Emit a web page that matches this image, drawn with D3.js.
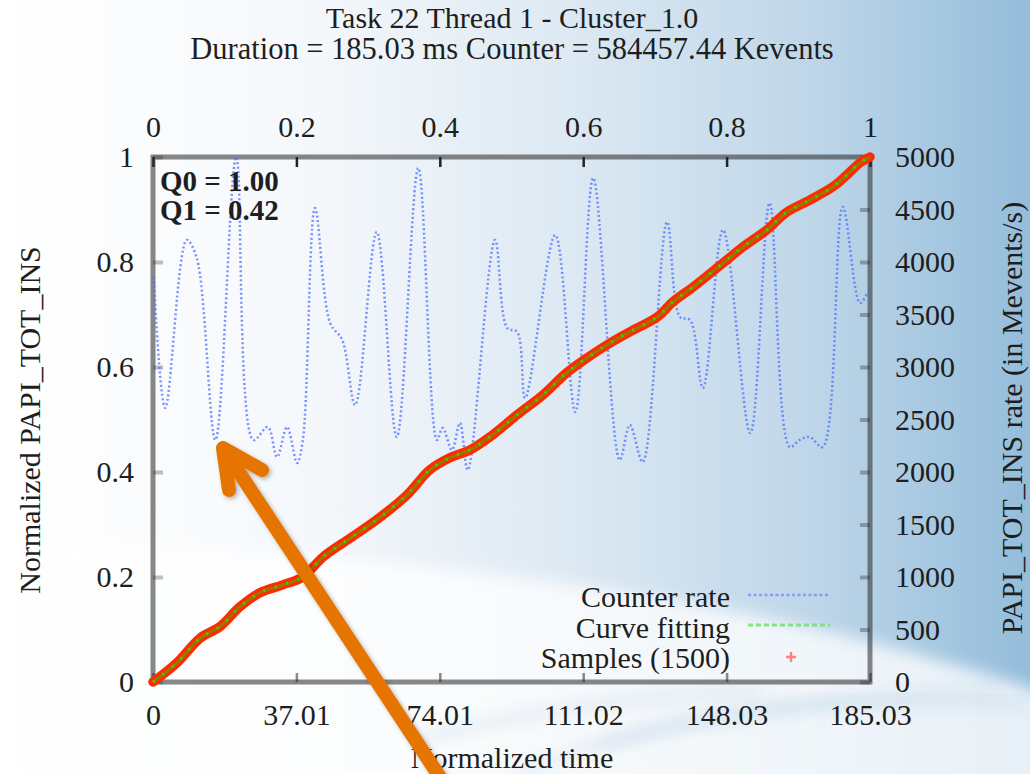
<!DOCTYPE html>
<html>
<head>
<meta charset="utf-8">
<script src="https://cdn.jsdelivr.net/npm/d3@7"></script>
<style>
  body { margin: 0; overflow: hidden; }
  text { font-family: "Liberation Serif", "Times New Roman", serif; fill: #1e1e1e; }
</style>
</head>
<body>
<svg id="svg1" width="1030" height="774"></svg>
<script>
// values
const rateTime   = [0.001,0.017,0.047,0.061,0.087,0.116,0.140,0.160,0.173,0.187,0.201,0.209,0.226,0.247,0.264,0.282,0.312,0.340,0.370,0.396,0.404,0.417,0.428,0.439,0.477,0.494,0.508,0.519,0.561,0.589,0.614,0.651,0.665,0.683,0.717,0.735,0.749,0.767,0.795,0.833,0.860,0.888,0.902,0.916,0.934,0.962,0.986,0.997];
const rateValues = [3857,2610,4210,4038,2305,5000,2305,2429,2143,2429,2086,2305,4514,3419,3257,2638,4286,2333,4895,2305,2419,2210,2467,2019,4210,3371,3333,2705,4257,2571,4800,2114,2448,2095,4381,3476,3448,2800,4305,2371,4562,2238,2305,2333,2238,4524,3610,3714];

const sampleTime   = [0,0.033,0.066,0.093,0.121,0.149,0.181,0.209,0.237,0.275,0.312,0.354,0.386,0.414,0.442,0.470,0.508,0.544,0.577,0.605,0.633,0.665,0.703,0.725,0.753,0.795,0.823,0.856,0.884,0.916,0.948,0.968,0.986,1];
const sampleValues = [0,0.036,0.084,0.105,0.143,0.170,0.185,0.200,0.238,0.274,0.309,0.356,0.404,0.427,0.442,0.467,0.509,0.547,0.589,0.617,0.642,0.667,0.695,0.724,0.752,0.798,0.829,0.861,0.895,0.918,0.943,0.966,0.989,1];
const fitValues    = [0,0.036,0.084,0.105,0.143,0.170,0.185,0.200,0.238,0.274,0.309,0.356,0.404,0.427,0.442,0.467,0.509,0.547,0.589,0.617,0.642,0.667,0.695,0.724,0.752,0.798,0.829,0.861,0.895,0.918,0.943,0.966,0.989,1];

const normTicks    = [0,0.2,0.4,0.6,0.8,1];
const timeLabels   = ["0","37.01","74.01","111.02","148.03","185.03"];
const rateTicks    = [0,500,1000,1500,2000,2500,3000,3500,4000,4500,5000];
const legendLabels = ["Counter rate","Curve fitting","Samples (1500)"];

const svg    = d3.select("#svg1"),
      margin = {top: 157, right: 160, bottom: 92, left: 153},
      width  = svg.attr("width") - margin.left - margin.right,
      height = svg.attr("height") - margin.top - margin.bottom,
      x      = d3.scaleLinear().domain([0, 1]).range([0, width]),
      yL     = d3.scaleLinear().domain([0, 1]).range([height, 0]),
      yR     = d3.scaleLinear().domain([0, 5000]).range([height, 0]);

const defs = svg.append("defs");
const bg = defs.append("linearGradient").attr("id", "bg");
[["0%","#ffffff"],["30%","#f5f8fb"],["55%","#dde9f3"],["78%","#c0d7e9"],["100%","#94bddb"]]
  .forEach(s => bg.append("stop").attr("offset", s[0]).attr("stop-color", s[1]));
defs.append("filter").attr("id", "soft").attr("x", "-20%").attr("y", "-20%").attr("width", "140%").attr("height", "140%")
  .append("feGaussianBlur").attr("stdDeviation", 8);
defs.append("filter").attr("id", "shadow")
  .append("feDropShadow").attr("dx", 2).attr("dy", 2).attr("stdDeviation", 2).attr("flood-opacity", 0.3);

// background + globe
svg.append("rect").attr("width", 1030).attr("height", 774).attr("fill", "url(#bg)");
svg.append("ellipse").attr("cx", 0).attr("cy", 1069).attr("rx", 1500).attr("ry", 524)
  .attr("fill", "#ffffff").attr("opacity", 0.78).attr("filter", "url(#soft)");
// faint streaks on the globe
svg.append("g").attr("fill", "none").attr("stroke", "#9fbfdc").attr("stroke-opacity", 0.25).attr("stroke-width", 10)
  .selectAll("path").data(["M520,772Q700,700 1000,690", "M600,745Q780,690 1030,705", "M420,740Q560,700 760,690"])
  .enter().append("path").attr("d", d => d).attr("filter", "url(#soft)");

const g = svg.append("g").attr("transform", `translate(${margin.left},${margin.top})`);

// axes
const axisStyle = (sel) => {
  sel.select(".domain").remove();
  sel.attr("font-family", null);
  sel.selectAll("text").style("font-size", "30px").attr("fill", "#1e1e1e");
};
g.append("g").attr("class", "axis axis-left")
  .call(d3.axisLeft(yL).tickValues(normTicks).tickFormat(d3.format("~g")).tickSize(-10).tickPadding(19))
  .call(axisStyle)
  .selectAll("line").attr("stroke", "#2a2a2a").attr("stroke-opacity", 0.3).attr("stroke-width", 4);
g.append("g").attr("class", "axis axis-right").attr("transform", `translate(${width},0)`)
  .call(d3.axisRight(yR).tickValues(rateTicks).tickFormat(d3.format("d")).tickSize(-10).tickPadding(25))
  .call(axisStyle)
  .selectAll("line").attr("stroke", "#2a2a2a").attr("stroke-opacity", 0.35).attr("stroke-width", 4);
g.append("g").attr("class", "axis axis-top")
  .call(d3.axisTop(x).tickValues(normTicks).tickFormat(d3.format("~g")).tickSize(-10).tickPadding(20))
  .call(axisStyle)
  .selectAll("line").attr("stroke", "#222").attr("stroke-width", 2.5);
g.append("g").attr("class", "axis axis-bottom").attr("transform", `translate(0,${height})`)
  .call(d3.axisBottom(x).tickValues(normTicks).tickFormat((d, i) => timeLabels[i]).tickSize(-9).tickPadding(22))
  .call(axisStyle)
  .selectAll("line").attr("stroke", "#2a2a2a").attr("stroke-opacity", 0.55).attr("stroke-width", 2.5);

// frame
g.append("rect").attr("width", width).attr("height", height)
  .attr("fill", "none").attr("stroke", "#2a2a2a").attr("stroke-opacity", 0.56).attr("stroke-width", 5);

// counter rate
const rateLine = d3.line().curve(d3.curveCatmullRom.alpha(0.5))
  .x((d, i) => x(rateTime[i])).y(d => yR(d));
g.append("path").datum(rateValues)
  .attr("d", rateLine).attr("fill", "none")
  .attr("stroke", "#4d6fff").attr("stroke-opacity", 0.75).attr("stroke-width", 2.5)
  .attr("stroke-dasharray", "2,2.5");

// samples + fitting
const cumLine = d3.line().curve(d3.curveCatmullRom.alpha(0.5))
  .x((d, i) => x(sampleTime[i])).y(d => yL(d));
g.append("path").datum(sampleValues)
  .attr("d", cumLine).attr("fill", "none")
  .attr("stroke", "#ff2a00").attr("stroke-width", 9.5).attr("stroke-linecap", "round");
g.append("path").datum(fitValues)
  .attr("d", cumLine).attr("fill", "none")
  .attr("stroke", "#9c7400").attr("stroke-width", 3);
g.append("path").datum(fitValues)
  .attr("d", cumLine).attr("fill", "none")
  .attr("stroke", "#2be000").attr("stroke-width", 3).attr("stroke-dasharray", "2,10");

// Q0 / Q1
g.append("text").attr("x", 7).attr("y", 34).style("font-size", "29px").style("font-weight", "bold").text("Q0 = 1.00");
g.append("text").attr("x", 7).attr("y", 63).style("font-size", "29px").style("font-weight", "bold").text("Q1 = 0.42");

// legend
const leg = g.append("g").attr("transform", "translate(0, 438)");
leg.selectAll("text").data(legendLabels).enter().append("text")
  .attr("x", 577).attr("y", (d, i) => 12 + i * 30.5)
  .attr("text-anchor", "end").style("font-size", "30px")
  .text(d => d);
leg.append("line").attr("x1", 595).attr("x2", 677).attr("y1", 0).attr("y2", 0)
  .attr("stroke", "#6f8cf5").attr("stroke-opacity", 0.75).attr("stroke-width", 2.5).attr("stroke-dasharray", "3,2.5");
leg.append("line").attr("x1", 595).attr("x2", 677).attr("y1", 30).attr("y2", 30)
  .attr("stroke", "#6fdc6f").attr("stroke-opacity", 0.8).attr("stroke-width", 3).attr("stroke-dasharray", "5,3");
leg.append("path").attr("d", "M633,62h10M638,57v10")
  .attr("stroke", "#ff8080").attr("stroke-width", 2.5);

// titles and axis labels
svg.append("text").attr("x", 512).attr("y", 28).attr("text-anchor", "middle").style("font-size", "30px")
  .text("Task 22 Thread 1 - Cluster_1.0");
svg.append("text").attr("x", 512).attr("y", 59).attr("text-anchor", "middle").style("font-size", "30.5px")
  .text("Duration = 185.03 ms Counter = 584457.44 Kevents");
svg.append("text").attr("x", 512).attr("y", 768).attr("text-anchor", "middle").style("font-size", "30px")
  .text("Normalized time");
svg.append("text").attr("transform", "translate(40,420) rotate(-90)").attr("text-anchor", "middle").style("font-size", "30px")
  .text("Normalized PAPI_TOT_INS");
svg.append("text").attr("transform", "translate(1022,418) rotate(-90)").attr("text-anchor", "middle").style("font-size", "30px")
  .text("PAPI_TOT_INS rate (in Mevents/s)");

// orange arrow
svg.append("path")
  .attr("d", "M455,800L223,448M262,470L223,448L229,490")
  .attr("fill", "none").attr("stroke", "#e57504").attr("stroke-width", 14)
  .attr("stroke-linecap", "round").attr("stroke-linejoin", "round")
  .attr("filter", "url(#shadow)");
</script>
</body>
</html>
